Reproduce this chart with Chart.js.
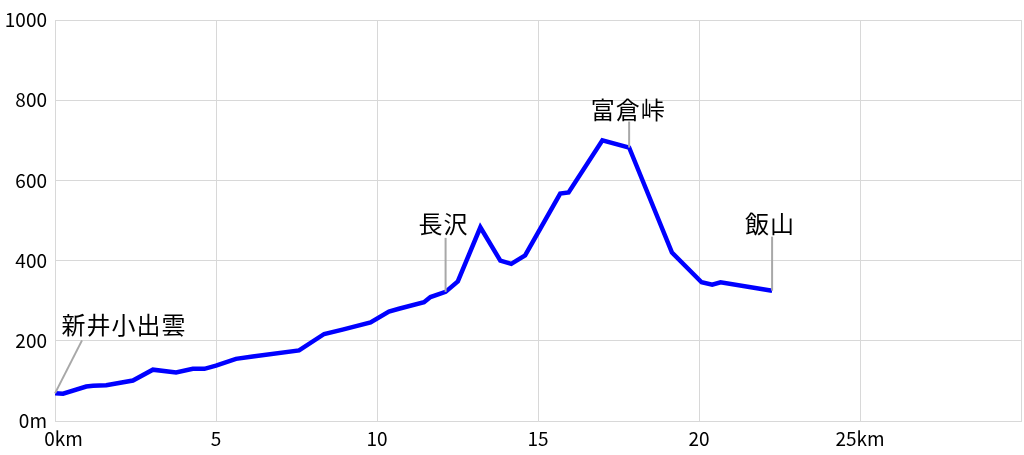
<!DOCTYPE html>
<html>
<head>
<meta charset="utf-8">
<script src="https://cdn.jsdelivr.net/npm/chart.js@4"></script>
<style>
  html, body { margin: 0; padding: 0; background: #fff; }
  #wrap { width: 1024px; height: 455px; }
</style>
</head>
<body>
<div id="wrap"><canvas id="profile" width="1024" height="455"></canvas></div>
<script>
// 距離(km)と標高(m)
const distKm = [0, 0.25, 0.97, 1.18, 1.59, 2.42, 3.04, 3.76, 4.28, 4.64, 5.0, 5.62, 6.14, 7.58, 8.36, 8.93, 9.8, 10.37, 10.68, 11.46, 11.66, 12.13, 12.51, 13.21, 13.83, 14.17, 14.6, 15.69, 15.95, 17.0, 17.83, 19.16, 20.08, 20.41, 20.67, 22.27];
const elevM = [69, 68, 86, 88, 89, 101, 128, 121, 130, 130, 138, 155, 161, 176, 217, 228, 246, 273, 280, 296, 309, 322, 348, 483, 400, 392, 413, 567, 570, 700, 682, 420, 346, 340, 346, 325];

// 地点名
const placeNames = ['新井小出雲', '長沢', '富倉峠', '飯山'];
const placeKm = [0, 12.13, 17.83, 22.27];
const placeElev = [69, 322, 682, 325];

// 軸ラベル
const xTicks = [0, 5, 10, 15, 20, 25, 30];
const xTickLabels = ['    0km', '5', '10', '15', '20', '25km', ''];
const yTicks = [0, 200, 400, 600, 800, 1000];
const yTickLabels = ['0m', '200', '400', '600', '800', '1000'];

// 引き出し線とラベルの位置(px)
const leaderStyle = [
    { lx: 27, ly: -53, tx: 69, ty: -68 },
    { lx: 0, ly: -54, tx: -2, ty: -68 },
    { lx: 0, ly: -26, tx: -1, ty: -38 },
    { lx: 0, ly: -54, tx: -2, ty: -67 }
];

const fontFamily = '"Noto Sans CJK JP", "Noto Sans", sans-serif';

const placeLabels = {
    id: 'placeLabels',
    afterDatasetsDraw(chart) {
        const ctx = chart.ctx;
        const xs = chart.scales.x;
        const ys = chart.scales.y;
        ctx.save();
        placeNames.forEach((name, i) => {
            const px = xs.getPixelForValue(placeKm[i]);
            const py = ys.getPixelForValue(placeElev[i]);
            const s = leaderStyle[i];
            ctx.strokeStyle = '#a8a8a8';
            ctx.lineWidth = 2;
            ctx.beginPath();
            ctx.moveTo(px, py);
            ctx.lineTo(px + s.lx, py + s.ly);
            ctx.stroke();
            ctx.fillStyle = '#000';
            ctx.font = '24px ' + fontFamily;
            ctx.letterSpacing = '1px';
            ctx.textAlign = 'center';
            ctx.textBaseline = 'middle';
            ctx.fillText(name, px + s.tx, py + s.ty);
        });
        ctx.restore();
    }
};

const gridColor = '#d8d8d8';

new Chart(document.getElementById('profile'), {
    type: 'line',
    data: {
        datasets: [{
            data: distKm.map((d, i) => ({ x: d, y: elevM[i] })),
            borderColor: '#0000ff',
            borderWidth: 4.5,
            pointRadius: 0,
            tension: 0,
            fill: false
        }]
    },
    options: {
        responsive: false,
        animation: false,
        layout: { padding: { top: 20, right: 3, left: 0, bottom: 0 } },
        plugins: {
            legend: { display: false },
            tooltip: { enabled: false }
        },
        scales: {
            x: {
                type: 'linear',
                min: 0,
                max: 30,
                afterBuildTicks: (scale) => { scale.ticks = xTicks.map(v => ({ value: v })); },
                afterFit: (scale) => {
                    scale.height = 34;
                    scale.paddingLeft = 0;
                    scale.paddingRight = 0;
                },
                grid: { color: gridColor, drawTicks: false },
                border: { color: gridColor },
                ticks: {
                    padding: 6,
                    color: '#000',
                    font: { family: fontFamily, size: 19 },
                    maxRotation: 0,
                    autoSkip: false,
                    callback: (v) => xTickLabels[xTicks.indexOf(v)]
                }
            },
            y: {
                min: 0,
                max: 1000,
                afterBuildTicks: (scale) => { scale.ticks = yTicks.map(v => ({ value: v })); },
                afterFit: (scale) => {
                    scale.width = 55;
                    scale.paddingTop = 0;
                    scale.paddingBottom = 0;
                },
                grid: { color: gridColor, drawTicks: false },
                border: { color: gridColor },
                ticks: {
                    padding: 8,
                    color: '#000',
                    font: { family: fontFamily, size: 19 },
                    callback: (v) => yTickLabels[yTicks.indexOf(v)]
                }
            }
        }
    },
    plugins: [placeLabels]
});
</script>
</body>
</html>
